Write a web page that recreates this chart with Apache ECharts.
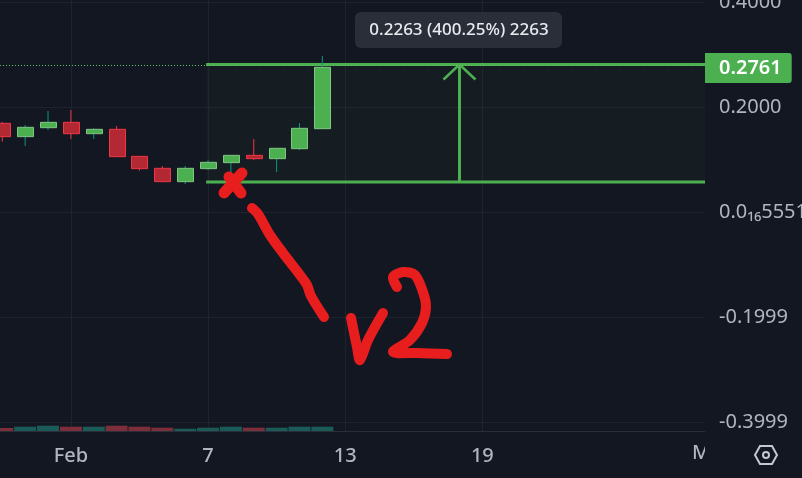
<!DOCTYPE html>
<html lang="en">
<head>
    <meta charset="UTF-8">
    <title>Chart</title>
    <style>
        * { margin: 0; padding: 0; }
        html, body { background: #131722; }
        #main { width: 802px; height: 478px; }
    </style>
</head>
<body>
<div id="main"></div>
<script src="https://cdn.jsdelivr.net/npm/echarts@6/dist/echarts.min.js"></script>
<script>
    var dates = ['2023-01-29', '2023-01-30', '2023-01-31', '2023-02-01', '2023-02-02', '2023-02-03', '2023-02-04', '2023-02-05',
        '2023-02-06', '2023-02-07', '2023-02-08', '2023-02-09', '2023-02-10', '2023-02-11', '2023-02-12'];
    var opens = [0.1689, 0.1435, 0.1606, 0.1708, 0.1492, 0.1575, 0.1060, 0.0832, 0.0578, 0.0826, 0.0940, 0.1079, 0.1016, 0.1206, 0.1587];
    var closes = [0.1435, 0.1613, 0.1708, 0.1492, 0.1575, 0.1054, 0.0826, 0.0578, 0.0832, 0.0946, 0.1079, 0.1016, 0.1213, 0.1594, 0.2756];
    var lows = [0.1340, 0.1257, 0.1562, 0.1390, 0.1390, 0.1054, 0.0787, 0.0578, 0.0533, 0.0800, 0.0705, 0.0990, 0.0762, 0.1181, 0.1587];
    var highs = [0.1714, 0.1657, 0.1924, 0.1943, 0.1594, 0.1638, 0.1060, 0.0876, 0.0876, 0.0984, 0.1079, 0.1390, 0.1213, 0.1695, 0.2971];
    var volumes = [3.0, 4.3, 5.3, 4.3, 4.3, 5.3, 4.3, 3.3, 2.3, 3.3, 4.3, 3.3, 3.3, 4.3, 4.3];

    var yTickValues = [0.4, 0.2, 0, -0.1999, -0.3999];
    var yTickLabels = ['0.4000', '0.2000', '0.0₁₆5551', '-0.1999', '-0.3999'];
    var xTickDates = ['2023-02-01', '2023-02-07', '2023-02-13', '2023-02-19'];
    var xTickLabels = ['Feb', '7', '13', '19'];

    var lastPrice = 0.2761;
    var measureFrom = '2023-02-06T22:00:00Z';
    var measureMid = '2023-02-18T00:00:00Z';
    var measureLow = 0.0571;
    var measureHigh = 0.281;

    // x axis counts days from the first candle
    var DAY = 86400000;
    var ts = function (d) { return new Date(d.length === 10 ? d + 'T00:00:00Z' : d).getTime(); };
    var dayOf = function (d) { return (ts(d) - ts(dates[0])) / DAY; };
    var xMin = -0.1;
    var xMax = dayOf('2023-02-28') + 0.74;
    var xTicks = xTickDates.map(dayOf);

    var candleData = dates.map(function (d, i) {
        return [dayOf(d), opens[i], closes[i], lows[i], highs[i]];
    });
    var volumeData = dates.map(function (d, i) {
        return {
            value: [dayOf(d), volumes[i]],
            itemStyle: {color: closes[i] >= opens[i] ? '#1b5b57' : '#7c2e3a'}
        };
    });

    function renderCandle(params, api) {
        var o = api.value(1), c = api.value(2);
        var up = c >= o;
        var x = api.coord([api.value(0), o])[0];
        var top = api.coord([api.value(0), Math.max(o, c)])[1];
        var bottom = api.coord([api.value(0), Math.min(o, c)])[1];
        var hi = api.coord([api.value(0), api.value(4)])[1];
        var lo = api.coord([api.value(0), api.value(3)])[1];
        return {
            type: 'group',
            children: [{
                type: 'line',
                shape: {x1: x, y1: hi, x2: x, y2: lo},
                style: {stroke: up ? '#089981' : '#f23645', lineWidth: 1}
            }, {
                type: 'rect',
                shape: {x: Math.round(x - 8) + 0.5, y: top, width: 16, height: Math.max(bottom - top, 1)},
                style: {
                    fill: up ? '#4caf50' : '#b22833',
                    stroke: up ? '#81c784' : '#f23645',
                    lineWidth: 1
                }
            }]
        };
    }

    function renderMeasure(params, api) {
        var left = api.coord([api.value(0), api.value(3)]);
        var right = api.coord([api.value(2), api.value(4)]);
        var mid = api.coord([api.value(1), api.value(4)])[0];
        var green = '#4caf50';
        return {
            type: 'group',
            children: [{
                type: 'rect',
                shape: {x: left[0], y: right[1], width: right[0] - left[0], height: left[1] - right[1]},
                style: {fill: 'rgba(76,175,80,0.04)'}
            }, {
                type: 'line',
                shape: {x1: left[0], y1: right[1], x2: right[0], y2: right[1]},
                style: {stroke: green, lineWidth: 3}
            }, {
                type: 'line',
                shape: {x1: left[0], y1: left[1], x2: right[0], y2: left[1]},
                style: {stroke: green, lineWidth: 3}
            }, {
                type: 'polyline',
                shape: {points: [[mid, left[1]], [mid, right[1]]]},
                style: {stroke: green, lineWidth: 3, fill: null}
            }, {
                type: 'polyline',
                shape: {points: [[mid - 16, right[1] + 15], [mid, right[1]], [mid + 16, right[1] + 15]]},
                style: {stroke: green, lineWidth: 2.5, fill: null}
            }]
        };
    }

    function stroke(points, width) {
        return {
            type: 'polyline',
            z: 20,
            shape: {points: points, smooth: 0.3},
            style: {stroke: '#e81e1e', lineWidth: width, lineCap: 'round', lineJoin: 'round', fill: null}
        };
    }

    var font = '"Noto Sans", sans-serif';
    var myChart = echarts.init(document.getElementById('main'));
    myChart.setOption({
        animation: false,
        backgroundColor: '#131722',
        grid: [
            {left: 0, top: 0, width: 705, height: 431, outerBoundsMode: 'none'},
            {left: 0, top: 411, width: 705, height: 20, outerBoundsMode: 'none'}
        ],
        xAxis: [{
            type: 'value',
            min: xMin,
            max: xMax,
            axisLine: {show: true, onZero: false, lineStyle: {color: '#2a2e39'}},
            axisTick: {show: false, customValues: xTicks},
            axisLabel: {
                customValues: xTicks,
                formatter: function (v) {
                    return xTickLabels[xTicks.indexOf(v)];
                },
                color: '#b2b5be',
                fontFamily: font,
                fontSize: 20,
                fontWeight: 500,
                margin: 15
            },
            splitLine: {show: true, lineStyle: {color: '#1f232e', width: 1}}
        }, {
            type: 'value',
            gridIndex: 1,
            min: xMin,
            max: xMax,
            show: false
        }],
        yAxis: [{
            type: 'value',
            position: 'right',
            min: -0.4171,
            max: 0.4038,
            axisLine: {show: false},
            axisTick: {show: false, customValues: yTickValues},
            axisLabel: {
                customValues: yTickValues,
                formatter: function (v) {
                    return yTickLabels[yTickValues.indexOf(v)];
                },
                color: '#b2b5be',
                fontFamily: font,
                fontSize: 20,
                margin: 14,
                align: 'left'
            },
            splitLine: {show: true, lineStyle: {color: '#1f232e', width: 1}}
        }, {
            type: 'value',
            gridIndex: 1,
            min: 0,
            max: 20,
            show: false
        }],
        series: [{
            name: 'Volume',
            type: 'bar',
            xAxisIndex: 1,
            yAxisIndex: 1,
            barWidth: 22,
            data: volumeData
        }, {
            name: 'Measure',
            type: 'custom',
            z: 3,
            clip: true,
            renderItem: renderMeasure,
            encode: {x: [0, 1, 2], y: [3, 4]},
            data: [[dayOf(measureFrom), dayOf(measureMid), xMax, measureLow, measureHigh]]
        }, {
            name: 'Price',
            type: 'custom',
            z: 4,
            clip: true,
            renderItem: renderCandle,
            encode: {x: 0, y: [1, 2, 3, 4]},
            data: candleData
        }, {
            name: 'Last',
            type: 'line',
            z: 5,
            data: [],
            markLine: {
                silent: true,
                symbol: 'none',
                animation: false,
                lineStyle: {color: '#5fc263', type: [1, 2], width: 1},
                label: {
                    position: 'end',
                    formatter: lastPrice.toFixed(4),
                    color: '#ffffff',
                    fontFamily: font,
                    fontSize: 20,
                    fontWeight: 600,
                    backgroundColor: '#4caf50',
                    padding: [5, 10, 5, 14],
                    borderRadius: [0, 3, 3, 0],
                    distance: 0,
                    offset: [0, 3]
                },
                data: [{yAxis: lastPrice}]
            }
        }],
        graphic: [
            // Mar sits past the right edge of the plot, only its first letter shows
            {
                type: 'text', z: 10, left: 692, top: 443,
                style: {text: 'Mar', fill: '#b2b5be', font: '500 20px ' + font}
            },
            {
                type: 'rect', z: 11, left: 705, top: 432,
                shape: {width: 97, height: 46},
                style: {fill: '#131722'}
            },
            // settings icon
            {
                type: 'polygon', z: 12,
                shape: {points: [[755, 455], [760, 446], [772, 446], [777, 455], [772, 464], [760, 464]]},
                style: {fill: null, stroke: '#c5c8d0', lineWidth: 2}
            },
            {
                type: 'circle', z: 12,
                shape: {cx: 766, cy: 455, r: 3},
                style: {fill: null, stroke: '#c5c8d0', lineWidth: 2}
            },
            // measure label
            {
                type: 'rect', z: 15,
                shape: {x: 355, y: 12, width: 207, height: 36, r: 6},
                style: {fill: '#2a2e39'}
            },
            {
                type: 'text', z: 16, x: 459, y: 30,
                style: {
                    text: '0.2263 (400.25%) 2263',
                    fill: '#e8eaf0',
                    font: '500 17px ' + font,
                    align: 'center',
                    verticalAlign: 'middle'
                }
            },
            // hand drawn red notes
            stroke([[224, 193], [242, 173]], 11),
            stroke([[229, 177], [241, 193]], 11),
            stroke([[252, 208], [258, 214], [270, 235], [283, 253], [300, 275], [307, 285], [311, 296], [324, 317]], 10),
            stroke([[351, 318], [357, 347], [360, 360], [368, 340], [383, 313]], 10),
            stroke([[397, 287], [393, 277], [403, 272], [415, 275], [423, 292], [426, 307], [422, 323], [410, 340], [393, 352], [417, 353], [447, 354]], 10)
        ]
    });
</script>
</body>
</html>
